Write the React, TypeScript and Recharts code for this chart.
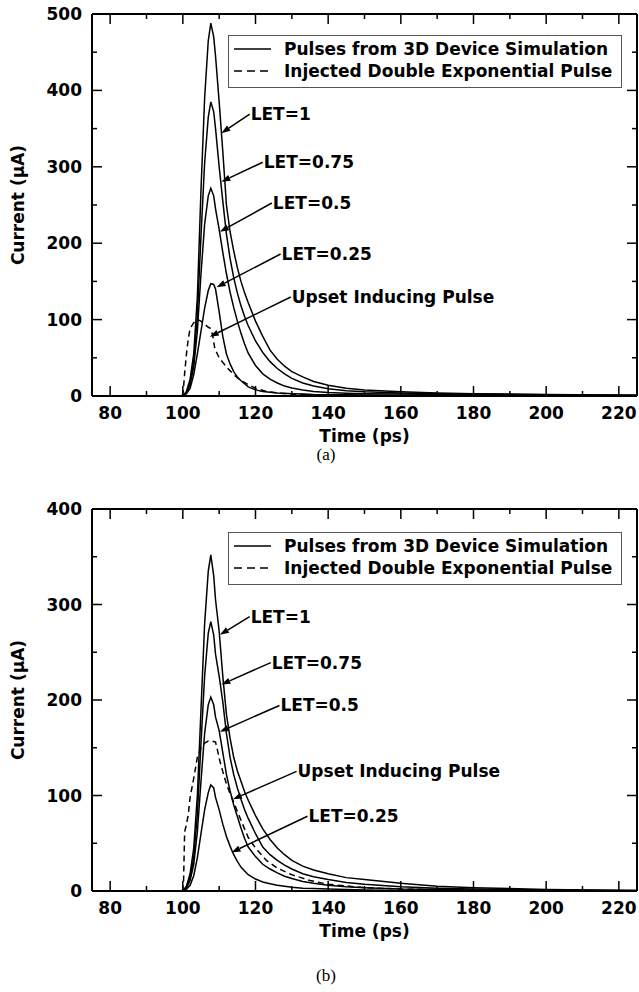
import React from 'react';
import { LineChart, Line, XAxis, YAxis, ReferenceLine } from 'recharts';

// time grid (ps) shared by the 3D device simulation pulses
const TIME = [75, 100, 101, 102, 103, 104, 105, 106, 107, 107.7, 108.5, 109, 110, 111, 112, 113, 114, 115, 116, 117, 118, 120, 122, 124, 126, 128, 130, 133, 136, 140, 145, 150, 160, 170, 180, 200, 225];

// panel (a) currents, uA
const A_LET_1 = [0, 0, 6, 22, 55, 130, 270, 390, 465, 488, 470, 445, 385, 320, 250, 215, 190, 168, 150, 135, 122, 98, 78, 60, 48, 39, 32, 25, 19, 14, 10, 8, 5.5, 4, 3, 2, 1];
const A_LET_075 = [0, 0, 5, 18, 45, 105, 210, 305, 365, 385, 372, 350, 300, 255, 212, 180, 155, 135, 118, 104, 92, 72, 57, 45, 36, 29, 23, 17, 13, 9.5, 7, 5.5, 4, 3, 2.5, 1.5, 1];
const A_LET_05 = [0, 0, 4, 15, 38, 85, 160, 225, 262, 272, 262, 245, 218, 188, 160, 136, 116, 98, 82, 68, 56, 40, 29, 22, 17, 13, 10.5, 8, 6, 4.5, 3.5, 3, 2.5, 2, 1.5, 1, 0.5];
const A_LET_025 = [0, 0, 3, 10, 28, 55, 85, 115, 138, 147, 146, 140, 110, 78, 55, 42, 32, 25, 20, 16, 12, 8, 6, 5, 4, 3.5, 3, 2.5, 2, 1.8, 1.5, 1.2, 1, 0.7, 0.5, 0.3, 0];
const A_INJ_TIME = [75, 99.8, 100.1, 100.5, 101, 101.5, 102, 103, 104, 105, 106, 107, 107.5, 108.2, 108.8, 109.5, 110, 111, 112, 113, 114, 116, 118, 120, 123, 126, 130, 140, 150, 225];
const A_INJ = [0, 0, 5, 30, 55, 75, 88, 96, 100, 98, 94, 90, 89, 80, 62, 55, 50, 44, 38, 33, 28, 20, 15, 10, 6, 4, 2.5, 1, 0.5, 0];

// panel (b) currents, uA
const B_LET_1 = [0, 0, 5, 18, 45, 100, 190, 280, 335, 352, 330, 305, 272, 225, 185, 160, 140, 126, 115, 104, 95, 79, 65, 54, 45, 38, 32, 26, 22, 18, 14, 12, 8, 5, 3.5, 1.5, 0.5];
const B_LET_075 = [0, 0, 4, 14, 36, 80, 155, 225, 270, 282, 268, 248, 225, 198, 165, 140, 122, 108, 96, 85, 76, 60, 46, 38, 32, 27, 23, 18, 15, 12, 9, 7, 4.5, 3, 2, 1, 0.5];
const B_LET_05 = [0, 0, 3, 11, 28, 62, 115, 165, 195, 203, 195, 182, 168, 145, 122, 105, 90, 78, 66, 55, 46, 36, 28, 23, 19, 15.5, 13, 10, 8, 6, 4.5, 3.5, 2, 1.5, 1, 0.5, 0];
const B_LET_025 = [0, 0, 2, 6, 16, 35, 60, 85, 103, 111, 108, 98, 85, 70, 57, 47, 38, 31, 25, 21, 17, 12.5, 9.5, 7.5, 6, 5, 4, 3, 2.5, 2, 1.5, 1, 0.5, 0.3, 0.2, 0, 0];
const B_INJ_TIME = [75, 99.9, 100.2, 100.5, 101, 101.5, 102, 103, 104, 105, 106, 107, 108, 109, 109.5, 110.2, 111, 112, 113, 114, 116, 118, 120, 123, 126, 130, 135, 140, 150, 160, 180, 225];
const B_INJ = [0, 0, 10, 62, 70, 80, 98, 118, 140, 150, 155, 157, 157, 156, 148, 136, 125, 112, 102, 93, 74, 56, 45, 32, 24, 17, 11, 7, 3.5, 2, 1, 0];

const X_TICKS = [80, 90, 100, 110, 120, 130, 140, 150, 160, 170, 180, 190, 200, 210, 220];
const Y_TICKS_A = [0, 50, 100, 150, 200, 250, 300, 350, 400, 450, 500];
const Y_TICKS_B = [0, 50, 100, 150, 200, 250, 300, 350, 400];

const LEGEND_LABELS = ['Pulses from 3D Device Simulation', 'Injected Double Exponential Pulse'];

// annotations: text, text anchor (t, uA), arrow tip (t, uA)
const A_NOTES = ['LET=1', 'LET=0.75', 'LET=0.5', 'LET=0.25', 'Upset Inducing Pulse'];
const A_NOTE_FROM = [[118.4, 369], [122, 306], [124.5, 252.6], [126.9, 185.9], [129.7, 129.6]];
const A_NOTE_TO = [[110.6, 344], [110.6, 280.5], [110.2, 215], [109.3, 142.3], [107.4, 77.6]];
const B_NOTES = ['LET=1', 'LET=0.75', 'LET=0.5', 'Upset Inducing Pulse', 'LET=0.25'];
const B_NOTE_FROM = [[118.4, 287.2], [124.2, 239.2], [126.6, 194.3], [131.3, 125.3], [134.3, 78.3]];
const B_NOTE_TO = [[110.2, 268.4], [110.6, 216.2], [110.2, 166.8], [113.8, 96.1], [113.4, 40.4]];

const FONT = 'DejaVu Sans, Arial, sans-serif';
const AXIS_LINE = { stroke: '#000', strokeWidth: 2 };
const X_MIN = 75;
const X_MAX = 225;
const PLOT_W = 545;
const PLOT_H = 382;

const toPoints = (ts: number[], vs: number[]) => ts.map((t, i) => ({ t, v: vs[i] }));

const textStyle = { fontFamily: FONT, fontWeight: 700, fontSize: 17, fill: '#000' };

const xTick = (p: any) => {
  const v = p.payload.value;
  if (v % 20 !== 0) return <g />;
  return <text x={p.x} y={p.y + 23} textAnchor="middle" style={textStyle}>{v}</text>;
};

const yTick = (p: any) => {
  const v = p.payload.value;
  if (v % 100 !== 0) return <g />;
  return <text x={p.x - 10} y={p.y + 6} textAnchor="end" style={textStyle}>{v}</text>;
};

const arrowShape = (label: string) => (p: any) => {
  const { x1, y1, x2, y2 } = p;
  const ang = Math.atan2(y2 - y1, x2 - x1);
  const L = 9;
  const W = 3.2;
  const bx = x2 - L * Math.cos(ang);
  const by = y2 - L * Math.sin(ang);
  const pts = `${x2},${y2} ${bx + W * Math.sin(ang)},${by - W * Math.cos(ang)} ${bx - W * Math.sin(ang)},${by + W * Math.cos(ang)}`;
  return (
    <g>
      <line x1={x1} y1={y1} x2={bx} y2={by} stroke="#000" strokeWidth={1.5} />
      <polygon points={pts} fill="#000" />
      <text x={x1 + 1} y={y1 + 6} style={textStyle}>{label}</text>
    </g>
  );
};

const xTitle = (p: any) => {
  const vb = p.viewBox;
  return <text x={vb.x + vb.width / 2} y={vb.y + 46} textAnchor="middle" style={textStyle}>Time (ps)</text>;
};

const yTitle = (p: any) => {
  const vb = p.viewBox;
  const cy = vb.y + vb.height / 2;
  return (
    <text x={18} y={cy} textAnchor="middle" dominantBaseline="central" transform={`rotate(-90, 18, ${cy})`} style={textStyle}>
      Current (μA)
    </text>
  );
};

function Legend2({ top }: { top: number }) {
  return (
    <div style={{ position: 'absolute', left: 228, top, width: 394, height: 53, border: '1.5px solid #555', boxSizing: 'border-box', background: '#fff' }}>
      {LEGEND_LABELS.map((lab, i) => (
        <div key={lab} style={{ position: 'absolute', left: 0, top: 3 + i * 22, height: 20, width: 394 }}>
          <svg width={50} height={20} style={{ position: 'absolute', left: 0, top: 0 }}>
            <line x1={5} y1={10} x2={42} y2={10} stroke="#000" strokeWidth={1.5} strokeDasharray={i === 1 ? '8 5' : undefined} />
          </svg>
          <span style={{ position: 'absolute', left: 55, top: 0, lineHeight: '20px', fontFamily: FONT, fontWeight: 700, fontSize: 17, whiteSpace: 'nowrap' }}>{lab}</span>
        </div>
      ))}
    </div>
  );
}

// inward tick marks on all four sides of the frame, as data-space segments
function frameTicks(yMax: number, yTicks: number[]) {
  const vUnit = yMax / PLOT_H;
  const hUnit = (X_MAX - X_MIN) / PLOT_W;
  const segs: any[] = [];
  X_TICKS.forEach((t) => {
    const len = (t % 20 === 0 ? 10 : 5) * vUnit;
    segs.push([{ x: t, y: 0 }, { x: t, y: len }]);
    segs.push([{ x: t, y: yMax }, { x: t, y: yMax - len }]);
  });
  yTicks.forEach((v) => {
    const len = (v % 100 === 0 ? 10 : 5) * hUnit;
    segs.push([{ x: X_MIN, y: v }, { x: X_MIN + len, y: v }]);
    segs.push([{ x: X_MAX, y: v }, { x: X_MAX - len, y: v }]);
  });
  return segs.map((s, i) => (
    <ReferenceLine key={`tk${i}`} xAxisId="b" yAxisId="l" segment={s} stroke="#000" strokeWidth={1.5} ifOverflow="visible" />
  ));
}

function Panel(props: any) {
  const { solid, injT, injV, yMax, yTicks, notes, from, to, top, legendTop } = props;
  return (
    <div style={{ position: 'absolute', left: 0, top, width: 639, height: 450 }}>
      <LineChart width={639} height={450} margin={{ top: 14, right: 2, bottom: 0, left: 0 }}>
        <XAxis xAxisId="b" type="number" dataKey="t" domain={[X_MIN, X_MAX]} ticks={X_TICKS} interval={0} height={54}
          tickSize={0} tickMargin={0} tickLine={false} axisLine={AXIS_LINE} tick={xTick}
          label={{ value: 'Time (ps)', content: xTitle }} />
        <XAxis xAxisId="t" orientation="top" mirror type="number" dataKey="t" domain={[X_MIN, X_MAX]} ticks={X_TICKS}
          tickLine={false} axisLine={AXIS_LINE} tick={false} />
        <YAxis yAxisId="l" type="number" domain={[0, yMax]} ticks={yTicks} interval={0} width={92}
          tickSize={0} tickMargin={0} tickLine={false} axisLine={AXIS_LINE} tick={yTick}
          label={{ value: 'Current (μA)', content: yTitle }} />
        <YAxis yAxisId="r" orientation="right" mirror type="number" domain={[0, yMax]} ticks={yTicks}
          tickLine={false} axisLine={AXIS_LINE} tick={false} />
        {frameTicks(yMax, yTicks)}
        {solid.map((vs: number[], i: number) => (
          <Line key={i} xAxisId="b" yAxisId="l" data={toPoints(TIME, vs)} dataKey="v" type="linear"
            stroke="#000" strokeWidth={1.5} dot={false} isAnimationActive={false} />
        ))}
        <Line xAxisId="b" yAxisId="l" data={toPoints(injT, injV)} dataKey="v" type="linear"
          stroke="#000" strokeWidth={1.5} strokeDasharray="6 4" dot={false} isAnimationActive={false} />
        {notes.map((n: string, i: number) => (
          <ReferenceLine key={n} xAxisId="b" yAxisId="l"
            segment={[{ x: from[i][0], y: from[i][1] }, { x: to[i][0], y: to[i][1] }]}
            shape={arrowShape(n)} />
        ))}
      </LineChart>
      <Legend2 top={legendTop} />
    </div>
  );
}

const captionStyle: React.CSSProperties = {
  position: 'absolute', left: 0, width: 652, textAlign: 'center',
  fontFamily: 'Liberation Serif, Times New Roman, serif', fontSize: 17, lineHeight: '20px',
};

export default function App() {
  return (
    <div style={{ position: 'absolute', left: 0, top: 0, width: 639, height: 992, background: '#fff' }}>
      <Panel solid={[A_LET_1, A_LET_075, A_LET_05, A_LET_025]} injT={A_INJ_TIME} injV={A_INJ}
        yMax={500} yTicks={Y_TICKS_A} notes={A_NOTES} from={A_NOTE_FROM} to={A_NOTE_TO} top={0} legendTop={35} />
      <div style={{ ...captionStyle, top: 445 }}>(a)</div>
      <Panel solid={[B_LET_1, B_LET_075, B_LET_05, B_LET_025]} injT={B_INJ_TIME} injV={B_INJ}
        yMax={400} yTicks={Y_TICKS_B} notes={B_NOTES} from={B_NOTE_FROM} to={B_NOTE_TO} top={495} legendTop={37} />
      <div style={{ ...captionStyle, top: 966 }}>(b)</div>
    </div>
  );
}
